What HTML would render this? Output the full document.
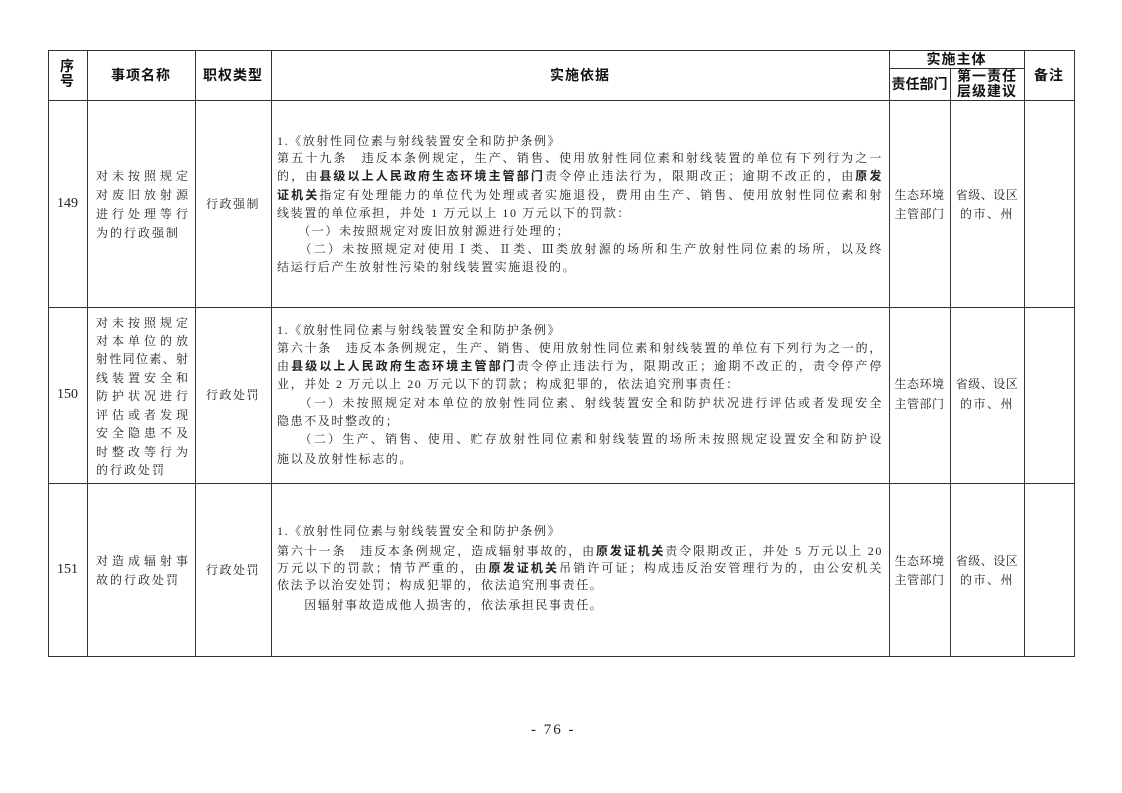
<!DOCTYPE html>
<html><head><meta charset="utf-8"><style>
body{margin:0;width:1122px;height:793px;background:#fff;position:relative;overflow:hidden;font-family:"Liberation Serif","Noto Serif CJK SC",serif;color:#222}
.l{position:absolute;background:#333}
.t{position:absolute;font-size:12px;line-height:14px;white-space:nowrap;letter-spacing:1.5px}
.h{position:absolute;font-family:"Liberation Sans","Noto Sans CJK SC",sans-serif;font-weight:bold;font-size:14px;line-height:15px;text-align:center;color:#111;letter-spacing:1px}
.j{position:absolute;left:277px;width:606px;font-size:12px;line-height:14px;text-align:justify;text-align-last:justify;white-space:nowrap;overflow:visible;letter-spacing:1.6px}
.n{text-align-last:left}
.c{text-align:center}
b{font-family:"Liberation Sans","Noto Sans CJK SC",sans-serif;font-weight:bold}
.nm{position:absolute;left:96px;width:92px;font-size:12px;line-height:14px;text-align:justify;text-align-last:justify}
.nl{text-align-last:left;letter-spacing:2px}
</style></head><body>
<div class="l" style="left:48px;top:50px;width:1027px;height:1px"></div>
<div class="l" style="left:889px;top:68px;width:135px;height:1px"></div>
<div class="l" style="left:48px;top:100px;width:1027px;height:1px"></div>
<div class="l" style="left:48px;top:307px;width:1027px;height:1px"></div>
<div class="l" style="left:48px;top:483px;width:1027px;height:1px"></div>
<div class="l" style="left:48px;top:656px;width:1027px;height:1px"></div>
<div class="l" style="left:48px;top:50px;width:1px;height:607px"></div>
<div class="l" style="left:87px;top:50px;width:1px;height:607px"></div>
<div class="l" style="left:195px;top:50px;width:1px;height:607px"></div>
<div class="l" style="left:271px;top:50px;width:1px;height:607px"></div>
<div class="l" style="left:889px;top:50px;width:1px;height:607px"></div>
<div class="l" style="left:950px;top:68px;width:1px;height:589px"></div>
<div class="l" style="left:1024px;top:50px;width:1px;height:607px"></div>
<div class="l" style="left:1074px;top:50px;width:1px;height:607px"></div>
<div class="h" style="left:48px;width:39px;top:59px">序<br>号</div>
<div class="h" style="left:87px;width:108px;top:68px">事项名称</div>
<div class="h" style="left:195px;width:76px;top:68px">职权类型</div>
<div class="h" style="left:271px;width:618px;top:68px">实施依据</div>
<div class="h" style="left:889px;width:135px;top:52px">实施主体</div>
<div class="h" style="left:889px;width:61px;top:77px;letter-spacing:0">责任部门</div>
<div class="h" style="left:950px;width:74px;top:69px">第一责任<br>层级建议</div>
<div class="h" style="left:1024px;width:50px;top:68px">备注</div>
<!-- row 149 -->
<div class="t c" style="left:48px;width:39px;top:197px;font-size:14px;letter-spacing:0">149</div>
<div class="nm" style="top:169px">对未按照规定</div>
<div class="nm" style="top:188px">对废旧放射源</div>
<div class="nm" style="top:207px">进行处理等行</div>
<div class="nm nl" style="top:226px">为的行政强制</div>
<div class="t c" style="left:195px;width:76px;top:197px">行政强制</div>
<div class="j n" style="top:134px">1.《放射性同位素与射线装置安全和防护条例》</div>
<div class="j" style="top:151px">第五十九条　违反本条例规定，生产、销售、使用放射性同位素和射线装置的单位有下列行为之一</div>
<div class="j" style="top:169px">的，由<b>县级以上人民政府生态环境主管部门</b>责令停止违法行为，限期改正；逾期不改正的，由<b>原发</b></div>
<div class="j" style="top:188px"><b>证机关</b>指定有处理能力的单位代为处理或者实施退役，费用由生产、销售、使用放射性同位素和射</div>
<div class="j n" style="top:206px">线装置的单位承担，并处 1 万元以上 10 万元以下的罚款：</div>
<div class="j n" style="top:224px">　　（一）未按照规定对废旧放射源进行处理的；</div>
<div class="j" style="top:242px">　　（二）未按照规定对使用Ⅰ类、Ⅱ类、Ⅲ类放射源的场所和生产放射性同位素的场所，以及终</div>
<div class="j n" style="top:260px">结运行后产生放射性污染的射线装置实施退役的。</div>
<div class="t c" style="left:889px;width:61px;top:188px;letter-spacing:0.5px">生态环境</div>
<div class="t c" style="left:889px;width:61px;top:207px;letter-spacing:0.5px">主管部门</div>
<div class="t c" style="left:950px;width:74px;top:188px;letter-spacing:0.5px">省级、设区</div>
<div class="t c" style="left:950px;width:74px;top:207px">的市、州</div>
<!-- row 150 -->
<div class="t c" style="left:48px;width:39px;top:388px;font-size:14px;letter-spacing:0">150</div>
<div class="nm" style="top:316px">对未按照规定</div>
<div class="nm" style="top:334px">对本单位的放</div>
<div class="nm" style="top:352px">射性同位素、射</div>
<div class="nm" style="top:371px">线装置安全和</div>
<div class="nm" style="top:389px">防护状况进行</div>
<div class="nm" style="top:408px">评估或者发现</div>
<div class="nm" style="top:426px">安全隐患不及</div>
<div class="nm" style="top:445px">时整改等行为</div>
<div class="nm nl" style="top:463px">的行政处罚</div>
<div class="t c" style="left:195px;width:76px;top:388px">行政处罚</div>
<div class="j n" style="top:323px">1.《放射性同位素与射线装置安全和防护条例》</div>
<div class="j" style="top:341px">第六十条　违反本条例规定，生产、销售、使用放射性同位素和射线装置的单位有下列行为之一的，</div>
<div class="j" style="top:359px">由<b>县级以上人民政府生态环境主管部门</b>责令停止违法行为，限期改正；逾期不改正的，责令停产停</div>
<div class="j n" style="top:377px">业，并处 2 万元以上 20 万元以下的罚款；构成犯罪的，依法追究刑事责任：</div>
<div class="j" style="top:396px">　　（一）未按照规定对本单位的放射性同位素、射线装置安全和防护状况进行评估或者发现安全</div>
<div class="j n" style="top:414px">隐患不及时整改的；</div>
<div class="j" style="top:432px">　　（二）生产、销售、使用、贮存放射性同位素和射线装置的场所未按照规定设置安全和防护设</div>
<div class="j n" style="top:452px">施以及放射性标志的。</div>
<div class="t c" style="left:889px;width:61px;top:377px;letter-spacing:0.5px">生态环境</div>
<div class="t c" style="left:889px;width:61px;top:397px;letter-spacing:0.5px">主管部门</div>
<div class="t c" style="left:950px;width:74px;top:377px;letter-spacing:0.5px">省级、设区</div>
<div class="t c" style="left:950px;width:74px;top:397px">的市、州</div>
<!-- row 151 -->
<div class="t c" style="left:48px;width:39px;top:563px;font-size:14px;letter-spacing:0">151</div>
<div class="nm" style="top:554px">对造成辐射事</div>
<div class="nm nl" style="top:573px">故的行政处罚</div>
<div class="t c" style="left:195px;width:76px;top:563px">行政处罚</div>
<div class="j n" style="top:524px">1.《放射性同位素与射线装置安全和防护条例》</div>
<div class="j" style="top:544px">第六十一条　违反本条例规定，造成辐射事故的，由<b>原发证机关</b>责令限期改正，并处 5 万元以上 20</div>
<div class="j" style="top:561px">万元以下的罚款；情节严重的，由<b>原发证机关</b>吊销许可证；构成违反治安管理行为的，由公安机关</div>
<div class="j n" style="top:578px">依法予以治安处罚；构成犯罪的，依法追究刑事责任。</div>
<div class="j n" style="top:598px">　　因辐射事故造成他人损害的，依法承担民事责任。</div>
<div class="t c" style="left:889px;width:61px;top:554px;letter-spacing:0.5px">生态环境</div>
<div class="t c" style="left:889px;width:61px;top:573px;letter-spacing:0.5px">主管部门</div>
<div class="t c" style="left:950px;width:74px;top:554px;letter-spacing:0.5px">省级、设区</div>
<div class="t c" style="left:950px;width:74px;top:573px">的市、州</div>
<div class="t" style="left:531px;top:721px;font-size:15px;line-height:18px;letter-spacing:2px">- 76 -</div>
</body></html>
